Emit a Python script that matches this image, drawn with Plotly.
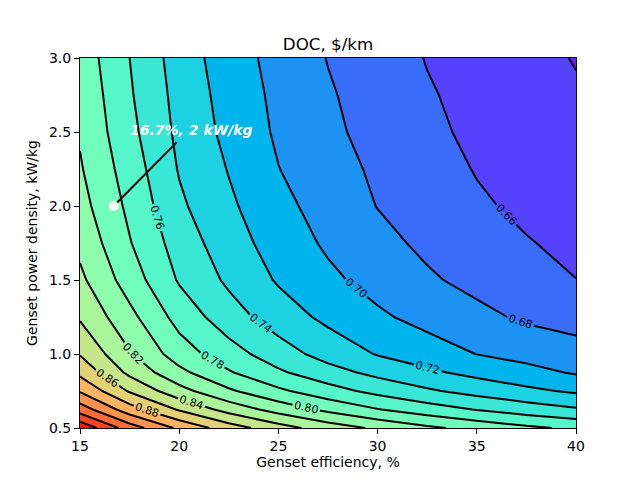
import numpy as np
import plotly.graph_objects as go

# Grid
eff = [15, 17.5, 20, 22.5, 25, 27.5, 30, 32.5, 35, 37.5, 40]
dens = [0.5, 0.625, 0.75, 0.875, 1.0, 1.25, 1.5, 1.75, 2.0, 2.25, 2.5, 2.75, 3.0]
doc_rows = [
    [0.975, 0.9299, 0.8961, 0.8696, 0.8482, 0.8305, 0.8165, 0.8038, 0.7937, 0.7839, 0.7763],
    [0.9307, 0.889, 0.8578, 0.8325, 0.8121, 0.7952, 0.7809, 0.7692, 0.7591, 0.7502, 0.7425],
    [0.898, 0.8578, 0.8271, 0.8031, 0.7838, 0.7679, 0.7541, 0.7428, 0.733, 0.7245, 0.7169],
    [0.875, 0.8352, 0.8053, 0.7819, 0.7631, 0.7476, 0.7346, 0.7237, 0.7144, 0.7063, 0.698],
    [0.8587, 0.8218, 0.7897, 0.7684, 0.7492, 0.7322, 0.7188, 0.7092, 0.6997, 0.6935, 0.6885],
    [0.8376, 0.8057, 0.7726, 0.7487, 0.730, 0.7152, 0.7032, 0.6936, 0.6849, 0.6769, 0.6715],
    [0.8243, 0.7906, 0.758, 0.7364, 0.7179, 0.7042, 0.6929, 0.6826, 0.6746, 0.6675, 0.6602],
    [0.815, 0.7812, 0.7511, 0.7287, 0.7114, 0.6969, 0.6855, 0.6761, 0.6685, 0.661, 0.656],
    [0.8071, 0.7756, 0.7435, 0.7234, 0.7057, 0.6917, 0.6795, 0.671, 0.6625, 0.6565, 0.6515],
    [0.8019, 0.7706, 0.7386, 0.719, 0.7004, 0.6879, 0.6767, 0.6675, 0.659, 0.6535, 0.6479],
    [0.798, 0.7655, 0.7354, 0.7146, 0.6971, 0.6841, 0.6734, 0.6637, 0.6564, 0.6505, 0.6446],
    [0.7954, 0.7623, 0.7333, 0.7122, 0.6954, 0.682, 0.6715, 0.6616, 0.6548, 0.6486, 0.642],
    [0.792, 0.760, 0.7307, 0.7096, 0.6932, 0.6793, 0.669, 0.6592, 0.6524, 0.6457, 0.639],
]
level_start, level_end, level_step = 0.64, 0.96, 0.02
norm_min, norm_max = 0.62, 0.98

point_x, point_y = 16.7, 2.0
point_label = "16.7%, 2 kW/kg"
label_x, label_y = 17.4, 2.515
line_end_x, line_end_y = 19.87, 2.43

x_ticks = [15, 20, 25, 30, 35, 40]
y_ticks = [0.5, 1.0, 1.5, 2.0, 2.5, 3.0]

# matplotlib 'rainbow' colours for each filled band
n_lev = int(round((level_end - level_start) / level_step)) + 1
mids = [level_start - level_step / 2 + k * level_step for k in range(n_lev + 1)]
cscale = []
for j, m in enumerate(mids):
    t = (m - norm_min) / (norm_max - norm_min)
    r = min(1.0, abs(2 * t - 0.5))
    g = np.sin(np.pi * t)
    b = np.cos(np.pi * t / 2)
    col = "rgb(%d,%d,%d)" % (round(r * 255), round(g * 255), round(max(b, 0) * 255))
    cscale.append([j / n_lev, col])

font = "DejaVu Sans, Arial, sans-serif"
fig = go.Figure()
fig.add_trace(go.Contour(
    x=eff, y=dens, z=doc_rows,
    colorscale=cscale, showscale=False,
    contours=dict(start=level_start, end=level_end, size=level_step,
                  coloring="fill", showlabels=True,
                  labelfont=dict(size=11, color="black", family=font),
                  labelformat=".2f"),
    line=dict(color="black", width=2, smoothing=0),
    hoverinfo="skip",
))
fig.add_trace(go.Scatter(
    x=[point_x, line_end_x], y=[point_y, line_end_y], mode="lines",
    line=dict(color="black", width=2), showlegend=False, hoverinfo="skip"))
fig.add_trace(go.Scatter(
    x=[point_x], y=[point_y], mode="markers",
    marker=dict(color="white", size=10), showlegend=False, hoverinfo="skip"))
fig.add_annotation(x=label_x, y=label_y, xref="x", yref="y", text="<b><i>%s</i></b>" % point_label,
                   showarrow=False, xanchor="left", yanchor="middle",
                   font=dict(color="white", size=14, family=font))

axis_common = dict(showline=True, linecolor="black", linewidth=1, mirror=True,
                   ticks="outside", ticklen=5, tickcolor="black", showgrid=False,
                   zeroline=False, tickfont=dict(size=14, color="black", family=font))
fig.update_xaxes(range=[15, 40], tickvals=x_ticks, ticktext=[str(v) for v in x_ticks],
                 title=dict(text="Genset efficiency, %", font=dict(size=14, color="black", family=font), standoff=4),
                 **axis_common)
fig.update_yaxes(range=[0.5, 3.0], tickvals=y_ticks, ticktext=["%.1f" % v for v in y_ticks],
                 title=dict(text="Genset power density, kW/kg", font=dict(size=14, color="black", family=font), standoff=8),
                 **axis_common)
fig.update_layout(
    width=640, height=480, margin=dict(l=80, r=64, t=58, b=52),
    paper_bgcolor="white", plot_bgcolor="white", showlegend=False,
    title=dict(text="DOC, $/km", x=328 / 640, xanchor="center",
               y=1 - 44 / 480, yanchor="middle", font=dict(size=16.7, color="black", family=font)),
)
fig.write_html("out.html")
